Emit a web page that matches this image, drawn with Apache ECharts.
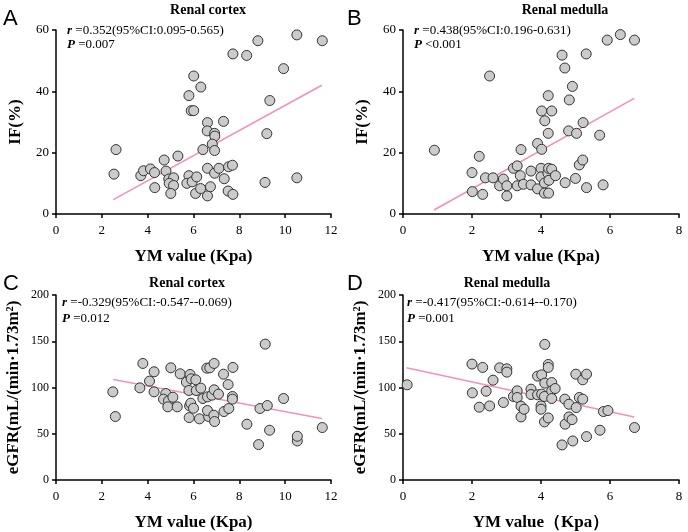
<!DOCTYPE html>
<html>
<head>
<meta charset="utf-8">
<script src="https://cdn.jsdelivr.net/npm/echarts@6/dist/echarts.min.js"></script>
<style>html,body{margin:0;padding:0;background:#fff}#c{width:688px;height:532px}</style>
</head>
<body>
<div id="c"></div>
<script>
// Panel A: Renal cortex YM vs IF(%)
var aX = [2.53,2.62,3.70,3.82,4.12,4.30,4.31,4.72,4.80,4.92,5.13,4.94,5.13,5.01,5.32,5.80,5.71,5.94,6.14,6.09,6.31,6.61,6.74,5.80,5.90,6.01,6.01,6.32,6.61,6.60,6.92,6.93,6.82,6.41,6.92,7.31,6.61,6.92,7.11,7.34,7.53,7.70,7.51,7.72,7.72,8.32,8.81,9.93,9.33,9.20,9.12,10.51,10.51,11.62];
var aY = [13.0,21.0,12.5,14.1,14.7,13.5,8.6,17.6,14.0,11.4,11.8,10.0,9.3,6.7,18.9,12.5,10.0,10.5,12.1,6.7,8.3,5.9,8.9,38.6,33.7,33.7,45.0,41.4,29.8,27.1,26.3,25.4,22.8,21.0,20.7,30.2,14.9,13.3,14.9,11.5,15.4,15.9,7.5,6.4,52.2,51.7,56.5,47.4,37.0,26.2,10.3,11.8,58.4,56.5];
var aFit = [[2.5,4.7],[11.6,42.0]];

// Panel B: Renal medulla YM vs IF(%)
var bX = [0.91,2.00,2.01,2.21,2.31,2.39,2.61,2.51,2.80,2.91,3.01,3.01,3.20,3.31,3.31,3.40,3.42,3.49,3.71,3.71,3.90,3.90,4.02,4.00,4.02,4.11,4.21,4.31,4.21,4.00,4.10,4.20,4.22,4.31,4.23,4.42,4.10,4.22,4.61,4.69,4.91,4.82,4.80,5.03,5.22,4.70,5.00,5.11,5.21,5.32,5.31,5.70,5.80,5.92,6.30,6.71];
var bY = [20.8,13.5,7.3,18.8,6.4,11.8,11.8,45.0,9.2,11.4,9.2,5.9,14.9,15.7,9.2,12.5,21.0,9.7,14.0,9.5,23.0,8.2,21.1,14.9,33.6,30.4,38.6,33.6,26.3,12.1,10.1,13.3,14.9,14.6,11.0,12.5,6.8,6.8,51.8,47.6,41.6,37.2,27.1,26.3,29.8,10.2,11.6,16.0,17.6,8.6,52.2,25.7,9.5,56.7,58.5,56.7];
var bFit = [[0.9,1.3],[6.7,37.7]];

// Panel C: Renal cortex YM vs eGFR
var cX = [2.48,2.59,3.79,3.66,4.08,4.28,4.28,4.79,4.69,4.91,4.88,5.10,5.01,5.29,5.42,5.69,5.85,5.90,5.80,5.83,5.88,5.81,6.00,6.10,6.12,6.32,6.26,6.41,6.58,6.71,6.61,6.66,6.61,6.80,6.90,6.90,6.89,6.92,7.09,7.31,7.33,7.51,7.54,7.72,7.70,7.70,8.33,8.84,8.90,9.13,9.22,9.32,9.93,10.53,10.53,11.62];
var cY = [95.3,68.6,126.0,99.6,106.9,117.0,95.3,93.5,87.4,85.6,79.1,89.5,121.3,79.1,114.8,105.8,114.1,109.4,96.8,80.1,83.0,67.5,77.6,108.3,96.8,99.3,66.1,88.1,120.9,121.3,89.9,68.6,75.1,91.7,126.0,97.5,70.0,63.2,92.8,114.4,74.0,103.2,77.3,121.7,90.3,87.4,60.3,38.3,77.3,146.9,80.5,53.8,88.1,42.2,47.3,56.7];
var cFit = [[2.5,108.7],[11.6,66.4]];

// Panel D: Renal medulla YM vs eGFR
var dX = [0.12,2.00,2.01,2.21,2.31,2.41,2.51,2.61,2.80,3.01,3.01,2.91,3.20,3.31,3.31,3.42,3.42,3.51,3.71,3.71,3.90,3.90,4.02,4.02,4.00,4.00,4.11,4.11,4.10,4.10,4.21,4.21,4.21,4.31,4.31,4.31,4.41,4.61,4.69,4.70,4.81,4.81,4.90,4.92,5.01,5.02,5.11,5.21,5.21,5.32,5.32,5.71,5.81,5.94,6.71];
var dY = [102.9,125.3,94.2,78.7,121.7,96.0,80.1,107.9,121.3,120.2,116.6,83.8,90.3,96.4,89.2,79.8,68.2,76.5,98.2,92.4,92.1,112.3,113.7,92.8,80.1,76.5,146.6,104.7,90.3,62.8,124.9,121.7,67.1,105.4,96.4,88.1,98.9,37.9,87.4,60.3,81.9,68.2,65.3,42.2,114.4,78.3,89.2,87.4,108.3,114.4,46.9,53.8,74.0,75.1,56.7];
var dFit = [[0.1,121.3],[6.7,68.2]];

var panelTitles = ['Renal cortex','Renal medulla','Renal cortex','Renal medulla'];
var panelLetters = ['A','B','C','D'];
var xTitles = ['YM value (Kpa)','YM value (Kpa)','YM value (Kpa)','YM value\uff08Kpa\uff09'];
var yTitles = ['IF(%)','IF(%)','eGFR(mL/(min\u00b71.73m\u00b2)','eGFR(mL/(min\u00b71.73m\u00b2)'];
var rTexts = ['=0.352(95%CI:0.095-0.565)','=0.438(95%CI:0.196-0.631)','=-0.329(95%CI:-0.547--0.069)','=-0.417(95%CI:-0.614--0.170)'];
var pTexts = ['=0.007','<0.001','=0.012','=0.001'];

var SERIF = '"Liberation Serif","Times New Roman",serif';
var SANS = '"Liberation Sans",Arial,sans-serif';
var PINK = '#f290bf';

function pairs(xs, ys){ return xs.map(function(x,i){ return [x, ys[i]]; }); }

var grids = [
  {left:56, top:30, width:275, height:184},
  {left:403, top:30, width:276, height:184},
  {left:56, top:295, width:275, height:185},
  {left:403, top:295, width:276, height:185}
];
var xMax = [12,8,12,8];
var yMax = [60,60,200,200];
var yInt = [20,20,50,50];
var yGap = [32,32,34,34];
var yLabelSize = [13,13,12,12];

var xAxes = [], yAxes = [];
for (var i=0;i<4;i++){
  xAxes.push({
    gridIndex:i, type:'value', min:0, max:xMax[i], interval:2,
    name:xTitles[i], nameLocation:'middle', nameGap:34,
    nameTextStyle:{fontFamily:SERIF, fontWeight:'bold', fontSize:17, color:'#000'},
    axisLine:{onZero:false, lineStyle:{color:'#000', width:1.5}},
    axisTick:{length:4, lineStyle:{color:'#000', width:1.5}},
    axisLabel:{fontFamily:SERIF, fontSize:13, color:'#000', margin:10},
    splitLine:{show:false}
  });
  yAxes.push({
    gridIndex:i, type:'value', min:0, max:yMax[i], interval:yInt[i],
    name:yTitles[i], nameLocation:'middle', nameGap:yGap[i], nameRotate:90,
    nameTextStyle:{fontFamily:SERIF, fontWeight:'bold', fontSize:17, color:'#000'},
    axisLine:{show:true, onZero:false, lineStyle:{color:'#000', width:1.5}},
    axisTick:{show:true, length:4, lineStyle:{color:'#000', width:1.5}},
    axisLabel:{fontFamily:SERIF, fontSize:yLabelSize[i], color:'#000', margin:7},
    splitLine:{show:false}
  });
}

var scat = [pairs(aX,aY), pairs(bX,bY), pairs(cX,cY), pairs(dX,dY)];
var fits = [aFit,bFit,cFit,dFit];
var series = [];
for (var j=0;j<4;j++){
  series.push({type:'line', xAxisIndex:j, yAxisIndex:j, data:fits[j], symbol:'none', z:1,
    lineStyle:{color:PINK, width:1.6}, silent:true, animation:false});
  series.push({type:'scatter', xAxisIndex:j, yAxisIndex:j, data:scat[j], symbol:'circle', symbolSize:10, z:3,
    itemStyle:{color:'#cbcbcb', borderColor:'#333', borderWidth:1, opacity:1}, animation:false});
}

// text positions
var letterPos = [[3,8],[347,8],[3,273],[347,273]];
var titlePos = [[208,10],[565,10],[187,283],[507,283]];
var annPos = [[67,31,45],[414,31,45],[62,303,319],[407,303,319]];
var graphics = [];
for (var k=0;k<4;k++){
  graphics.push({type:'text', x:letterPos[k][0], y:letterPos[k][1],
    style:{text:panelLetters[k], fontFamily:SANS, fontSize:22, fill:'#000', verticalAlign:'top'}});
  graphics.push({type:'text', x:titlePos[k][0], y:titlePos[k][1],
    style:{text:panelTitles[k], fontFamily:SERIF, fontWeight:'bold', fontSize:14, fill:'#000', align:'center', verticalAlign:'middle'}});
  graphics.push({type:'text', x:annPos[k][0], y:annPos[k][1],
    style:{text:'{i|r} ' + rTexts[k], fontFamily:SERIF, fontSize:13, fill:'#000', verticalAlign:'middle',
      rich:{i:{fontFamily:SERIF, fontSize:13, fontWeight:'bold', fontStyle:'italic', fill:'#000'}}}});
  graphics.push({type:'text', x:annPos[k][0], y:annPos[k][2],
    style:{text:'{i|P} ' + pTexts[k], fontFamily:SERIF, fontSize:13, fill:'#000', verticalAlign:'middle',
      rich:{i:{fontFamily:SERIF, fontSize:13, fontWeight:'bold', fontStyle:'italic', fill:'#000'}}}});
}

var chart = echarts.init(document.getElementById('c'), null, {renderer:'canvas'});
chart.setOption({
  animation:false,
  backgroundColor:'#fff',
  grid:grids,
  xAxis:xAxes,
  yAxis:yAxes,
  series:series,
  graphic:graphics
});
</script>
</body>
</html>
